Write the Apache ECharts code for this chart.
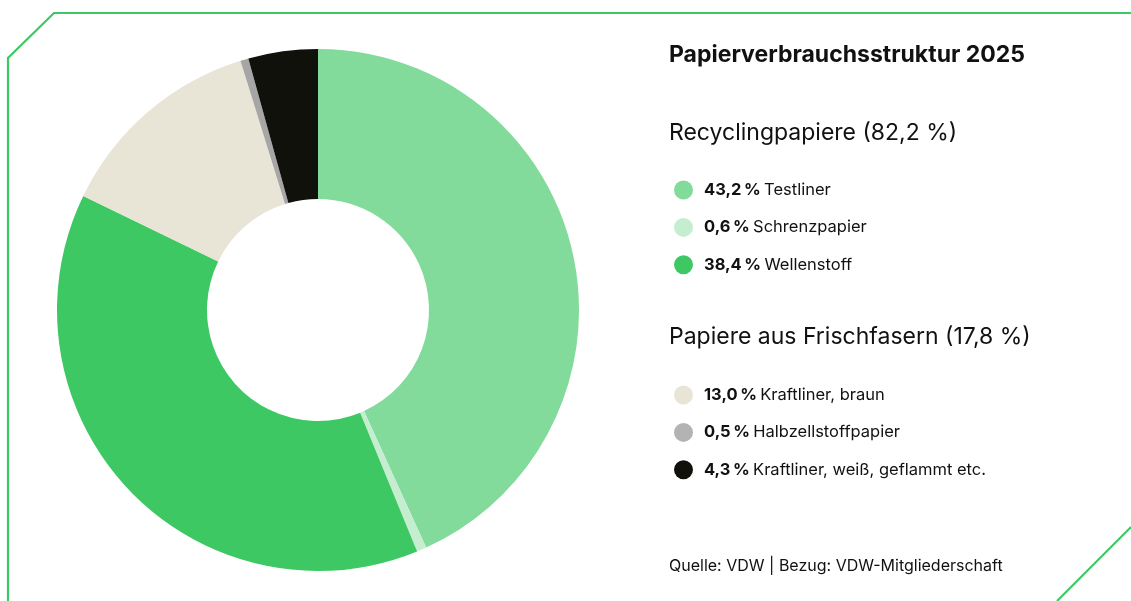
<!DOCTYPE html>
<html>
<head>
  <meta charset="utf-8">
  <title>Papierverbrauchsstruktur 2025</title>
  <script src="https://cdn.jsdelivr.net/npm/echarts@6/dist/echarts.min.js"></script>
</head>
<style>
  * { padding: 0; margin: 0; }
  #main { width: 1131px; height: 601px; background: #fff; }
</style>
<body>
  <div id="main"></div>
  <script type="text/javascript">
    // Daten
    var recyclingNames = ['Testliner', 'Schrenzpapier', 'Wellenstoff'];
    var recyclingValues = [43.2, 0.6, 38.4];
    var frischNames = ['Kraftliner, braun', 'Halbzellstoffpapier', 'Kraftliner, weiß, geflammt etc.'];
    var frischValues = [13.0, 0.5, 4.3];
    var colors = ['#82db9a', '#c5eed0', '#3ec864', '#e8e4d6', '#a7a5a5', '#11110b'];
    var legendColors = ['#82db9a', '#c5eed0', '#3ec864', '#e8e4d6', '#b3b3b3', '#11110b'];

    var FONT = 'Inter, "Noto Sans", sans-serif';
    var fmt = function (v) { return v.toFixed(1).replace('.', ','); };
    var sum = function (a) { return a.reduce(function (s, v) { return s + v; }, 0); };

    var names = recyclingNames.concat(frischNames);
    var values = recyclingValues.concat(frischValues);
    var pieData = names.map(function (n, i) {
      return { name: n, value: values[i], itemStyle: { color: colors[i] } };
    });
    var valueByName = {};
    names.forEach(function (n, i) { valueByName[n] = values[i]; });

    function legendFor(list, top) {
      return {
        orient: 'vertical',
        left: 669,
        top: top,
        itemWidth: 19,
        itemHeight: 19,
        itemGap: 18.4,
        icon: 'circle',
        selectedMode: false,
        data: list.map(function (n) {
          return { name: n, itemStyle: { color: legendColors[names.indexOf(n)] } };
        }),
        formatter: function (n) {
          return '{b|' + fmt(valueByName[n]) + '\u2009%} {n|' + n + '}';
        },
        textStyle: {
          padding: [0, 0, 0, 6],
          rich: {
            b: { fontFamily: FONT, fontSize: 16.5, fontWeight: 'bold', color: '#111', lineHeight: 19 },
            n: { fontFamily: FONT, fontSize: 16.5, color: '#111', lineHeight: 19 }
          }
        }
      };
    }

    var myChart = echarts.init(document.getElementById('main'));
    var option = {
      backgroundColor: '#fff',
      animation: false,
      title: [
        { text: 'Papierverbrauchsstruktur 2025', left: 669, top: 44, padding: 0,
          textStyle: { fontFamily: FONT, fontSize: 23, fontWeight: 'bold', color: '#111' } },
        { text: 'Recyclingpapiere (' + fmt(sum(recyclingValues)) + ' %)', left: 669, top: 122, padding: 0,
          textStyle: { fontFamily: FONT, fontSize: 23, fontWeight: 'normal', color: '#111' } },
        { text: 'Papiere aus Frischfasern (' + fmt(sum(frischValues)) + ' %)', left: 669, top: 326, padding: 0,
          textStyle: { fontFamily: FONT, fontSize: 23, fontWeight: 'normal', color: '#111' } },
        { text: 'Quelle: VDW | Bezug: VDW-Mitgliederschaft', left: 669, top: 558, padding: 0,
          textStyle: { fontFamily: FONT, fontSize: 16, fontWeight: 'normal', color: '#111' } }
      ],
      legend: [legendFor(recyclingNames, 175.5), legendFor(frischNames, 380.5)],
      graphic: [
        { type: 'polyline', silent: true,
          shape: { points: [[8, 601], [8, 58], [54, 13], [1131, 13]] },
          style: { stroke: '#3ec864', lineWidth: 2.2, fill: null } },
        { type: 'polyline', silent: true,
          shape: { points: [[1057, 601], [1131, 527]] },
          style: { stroke: '#3ec864', lineWidth: 2.2, fill: null } }
      ],
      series: [{
        type: 'pie',
        center: [318, 310],
        radius: [111, 261],
        startAngle: 90,
        clockwise: true,
        label: { show: false },
        labelLine: { show: false },
        emphasis: { disabled: true },
        itemStyle: { borderWidth: 0 },
        data: pieData
      }]
    };
    myChart.setOption(option);
  </script>
</body>
</html>
